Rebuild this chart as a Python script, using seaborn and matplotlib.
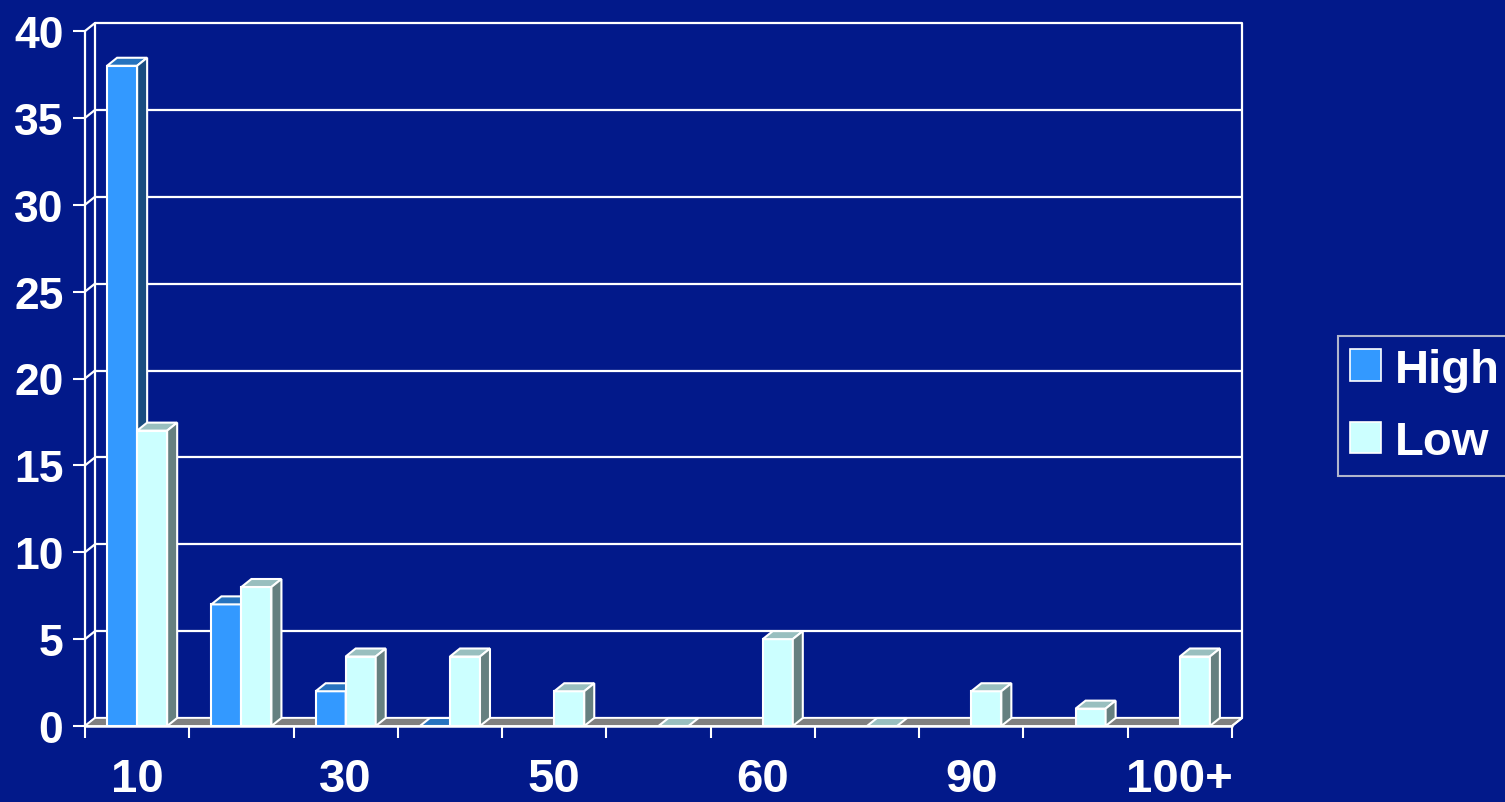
import numpy as np
import pandas as pd
import matplotlib
matplotlib.use("Agg")
import matplotlib.pyplot as plt
from matplotlib.patches import Polygon, Patch
import seaborn as sns

# ---- data -------------------------------------------------------------
categories = ["10", "20", "30", "40", "50", "55", "60", "70", "90", "95", "100+"]
tick_labels = ["10", "", "30", "", "50", "", "60", "", "90", "", "100+"]
series = ["High", "Low"]
high = [38, 7, 2, 0, np.nan, np.nan, np.nan, np.nan, np.nan, np.nan, np.nan]
low = [17, 8, 4, 4, 2, 0, 5, 0, 2, 1, 4]
y_ticks = [0, 5, 10, 15, 20, 25, 30, 35, 40]

# ---- style ------------------------------------------------------------
BG = "#02198A"
FRONT = {"High": "#3399FF", "Low": "#CCFFFF"}
TOP = {"High": "#2673BF", "Low": "#99BFBF"}
SIDE = {"High": "#1A4D80", "Low": "#668080"}
FLOOR = "#808080"
LINE = "white"

sns.set_theme(style="white")
plt.rcParams["font.family"] = ["Liberation Sans", "DejaVu Sans"]
plt.rcParams["font.weight"] = "bold"

df = pd.DataFrame({
    "category": np.repeat(categories, 2),
    "series": series * len(categories),
    "value": np.ravel(np.column_stack([high, low])),
}).dropna()

W, H = 1505, 803
fig = plt.figure(figsize=(W / 100, H / 100), dpi=100, facecolor=BG)
ax = fig.add_axes([85 / W, 1 - 727 / H, (1232 - 85) / W, (727 - 32) / H])
ax.set_facecolor("none")

sns.barplot(data=df, x="category", y="value", hue="series",
            order=categories, hue_order=series, palette=FRONT,
            saturation=1, width=0.576, edgecolor=LINE, linewidth=1.5,
            errorbar=None, legend=False, ax=ax, zorder=3)

x0, x1 = -0.5, len(categories) - 0.5
y0, y1 = 0, 40
ax.set_xlim(x0, x1)
ax.set_ylim(y0, y1)

# depth of the 3-D box in pixels, converted to data units
DEPTH_X, DEPTH_Y = 10, 8
bbox = ax.get_window_extent()
ddx = DEPTH_X * (x1 - x0) / bbox.width
ddy = DEPTH_Y * (y1 - y0) / bbox.height

# back wall: gridlines and frame
for yv in y_ticks:
    ax.plot([x0 + ddx, x1 + ddx], [yv + ddy, yv + ddy], color=LINE,
            lw=1.6, zorder=0.5, clip_on=False, solid_capstyle="butt")
    # side wall diagonals
    ax.plot([x0, x0 + ddx], [yv, yv + ddy], color=LINE, lw=1.6,
            zorder=0.5, clip_on=False)
ax.plot([x0 + ddx, x0 + ddx], [y0 + ddy, y1 + ddy], color=LINE, lw=1.6,
        zorder=0.5, clip_on=False)
ax.plot([x1 + ddx, x1 + ddx], [y0 + ddy, y1 + ddy], color=LINE, lw=1.6,
        zorder=0.5, clip_on=False)
ax.plot([x0, x0], [y0, y1], color=LINE, lw=1.6, zorder=0.5, clip_on=False)

# floor
floor = Polygon([(x0, y0), (x1, y0), (x1 + ddx, y0 + ddy), (x0 + ddx, y0 + ddy)],
                closed=True, facecolor=FLOOR, edgecolor=LINE, lw=1.2,
                zorder=1, clip_on=False)
ax.add_patch(floor)

# 3-D faces of every bar
for level, container in zip(series, ax.containers):
    z = 3 if level == "High" else 4
    for bar in container:
        bx, bw, bh = bar.get_x(), bar.get_width(), bar.get_height()
        if np.isnan(bh):
            continue
        bar.set_zorder(z)
        top = Polygon([(bx, bh), (bx + bw, bh), (bx + bw + ddx, bh + ddy),
                       (bx + ddx, bh + ddy)], closed=True,
                      facecolor=TOP[level], edgecolor=LINE, lw=1.5,
                      zorder=z, clip_on=False)
        ax.add_patch(top)
        if bh > 0:
            side = Polygon([(bx + bw, 0), (bx + bw + ddx, ddy),
                            (bx + bw + ddx, bh + ddy), (bx + bw, bh)],
                           closed=True, facecolor=SIDE[level], edgecolor=LINE,
                           lw=1.5, zorder=z, clip_on=False)
            ax.add_patch(side)
        else:
            bar.set_visible(False)

# front axis lines
ax.plot([x0, x1], [y0, y0], color=LINE, lw=1.8, zorder=5, clip_on=False)
ax.plot([x1, x1 + ddx], [y0, y0 + ddy], color=LINE, lw=1.6, zorder=5, clip_on=False)

for s in ax.spines.values():
    s.set_visible(False)

ax.set_yticks(y_ticks)
ax.set_yticklabels([str(v) for v in y_ticks])
ax.set_xticks(range(len(categories)))
ax.set_xticklabels(tick_labels)
ax.set_xticks(np.arange(x0, x1 + 0.01, 1.0), minor=True)
ax.tick_params(axis="y", which="major", direction="out", length=8.5, width=1.5,
               color=LINE, labelcolor="white", labelsize=32, pad=7, left=True)
ax.tick_params(axis="x", which="major", length=0, labelcolor="white",
               labelsize=34, pad=22)
ax.tick_params(axis="x", which="minor", direction="out", length=8.5, width=1.5,
               color=LINE, bottom=True)
for lab in ax.get_xticklabels() + ax.get_yticklabels():
    lab.set_fontweight("bold")
ax.set_xlabel("")
ax.set_ylabel("")

handles = [Patch(facecolor=FRONT[s], edgecolor=LINE, lw=1.2) for s in series]
leg = fig.legend(handles, series, loc="center left",
                 bbox_to_anchor=(1338 / W, 1 - 407 / H), borderaxespad=0,
                 frameon=True, fancybox=False, facecolor=BG, edgecolor="#DDDDDD",
                 prop={"size": 34, "weight": "bold"}, labelcolor="white",
                 handlelength=0.65, handleheight=0.65, handletextpad=0.3,
                 labelspacing=0.6, borderpad=0.25)
leg.get_frame().set_linewidth(1.5)

fig.savefig("out.png", dpi=100, facecolor=BG)
